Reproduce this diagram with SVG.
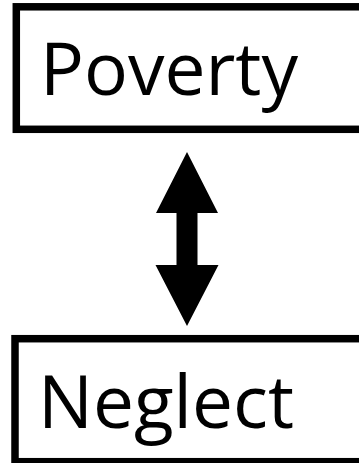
<svg xmlns="http://www.w3.org/2000/svg" width="359" height="463" viewBox="0 0 359 463">
  <style>
    .box { fill: #ffffff; stroke: #000000; stroke-width: 7.5; }
    .label { font-family: "Open Sans", "Liberation Sans", sans-serif; font-size: 73px; fill: #000000; }
    .arrow { fill: #000000; stroke: none; }
  </style>
  <rect x="0" y="0" width="359" height="463" fill="#ffffff"/>
  <g id="node-poverty">
    <rect class="box" x="16.3" y="6.8" width="380" height="122.5"/>
    <text class="label" x="40" y="95" textLength="258" lengthAdjust="spacingAndGlyphs">Poverty</text>
  </g>
  <g id="node-neglect">
    <rect class="box" x="15" y="338.7" width="380" height="123"/>
    <text class="label" x="38" y="428" textLength="256" lengthAdjust="spacingAndGlyphs">Neglect</text>
  </g>
  <g id="connectors">
    <polygon class="arrow" points="187,152 218,213 197.5,213 197.5,265 218.5,265 187,326 155.5,265 176.5,265 176.5,213 156,213"/>
  </g>
</svg>
